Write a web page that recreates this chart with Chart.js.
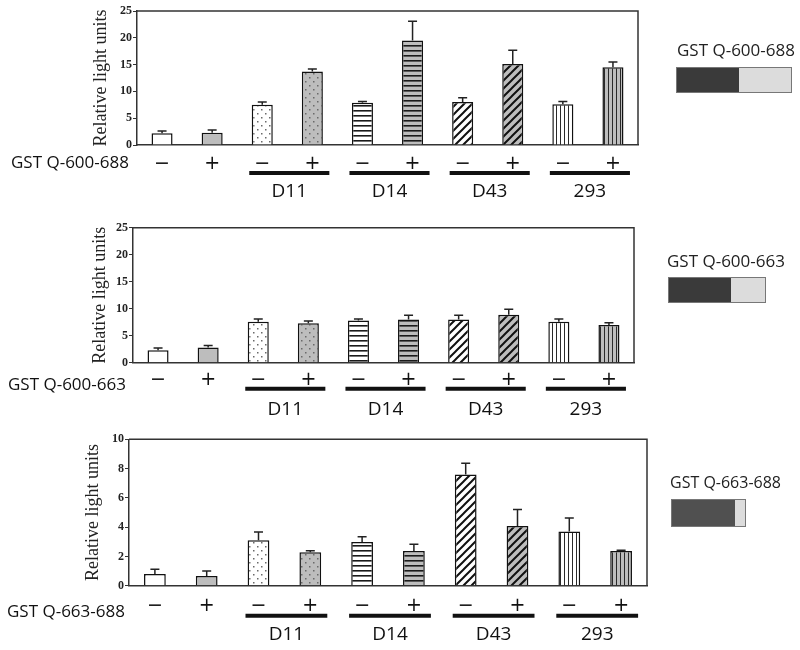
<!DOCTYPE html>
<html>
<head>
<meta charset="utf-8">
<script src="https://cdn.jsdelivr.net/npm/chart.js@4.4.1/dist/chart.umd.min.js"></script>
<style>
  body { margin: 0; background: #fff; }
  #wrap { position: relative; width: 800px; height: 650px; overflow: hidden; }
  canvas { position: absolute; left: 0; }
  .cons { position: absolute; font-family: 'Open Sans', sans-serif; color: #222; white-space: nowrap; }
  .box { position: absolute; border: 1px solid #777; display: flex; box-sizing: border-box; }
  .box div { height: 100%; }
</style>
</head>
<body>
<div id="wrap">
  <canvas id="c1" width="800" height="205" style="top:0px"></canvas>
  <canvas id="c2" width="800" height="215" style="top:215px"></canvas>
  <canvas id="c3" width="800" height="225" style="top:425px"></canvas>

  <div class="cons" style="left:677px;top:38px;font-size:17px">GST Q-600-688</div>
  <div class="box" style="left:676px;top:67px;width:116px;height:26px">
    <div style="width:62px;background:#3a3a3a"></div><div style="flex:1;background:#dcdcdc"></div>
  </div>

  <div class="cons" style="left:667px;top:249px;font-size:17px">GST Q-600-663</div>
  <div class="box" style="left:668px;top:277px;width:98px;height:26px">
    <div style="width:62px;background:#3a3a3a"></div><div style="flex:1;background:#dcdcdc"></div>
  </div>

  <div class="cons" style="left:670px;top:471px;font-size:16px">GST Q-663-688</div>
  <div class="box" style="left:671px;top:499px;width:75px;height:28px">
    <div style="width:63px;background:#505050"></div><div style="flex:1;background:#dcdcdc"></div>
  </div>
</div>

<script>
// x labels (treatment sign) and cell lines
var signs = ['−', '+', '−', '+', '−', '+', '−', '+', '−', '+']
var groupNames = ['D11', 'D14', 'D43', '293']
var groupFirst = [2, 4, 6, 8]

// fill style of each bar
var fillKinds = ['plain', 'plain', 'dots', 'dots', 'hlines', 'hlines', 'diag', 'diag', 'vlines', 'vlines']
var fillShades = ['#ffffff', '#bdbdbd', '#ffffff', '#bdbdbd', '#ffffff', '#bdbdbd', '#ffffff', '#bdbdbd', '#ffffff', '#bdbdbd']

// GST Q-600-688
var p1Means = [2.2, 2.3, 7.5, 13.7, 7.9, 19.5, 8.0, 15.1, 7.6, 14.5]
var p1Errs = [0.4, 0.5, 0.5, 0.5, 0.2, 3.6, 0.8, 2.6, 0.5, 1.0]

// GST Q-600-663
var p2Means = [2.3, 2.8, 7.6, 7.3, 7.8, 8.0, 8.0, 8.9, 7.6, 7.0]
var p2Errs = [0.4, 0.4, 0.5, 0.4, 0.3, 0.8, 0.8, 1.0, 0.5, 0.4]

// GST Q-663-688
var p3Means = [0.8, 0.66, 3.1, 2.28, 2.98, 2.37, 7.6, 4.08, 3.7, 2.37]
var p3Errs = [0.32, 0.34, 0.57, 0.1, 0.37, 0.46, 0.76, 1.12, 0.92, 0.05]

function makePattern(kind, bg) {
  if (kind == 'plain') return bg
  var s = kind == 'dots' ? 8 : kind == 'hlines' ? 5 : kind == 'diag' ? 8 : 4
  var c = document.createElement('canvas')
  c.width = s; c.height = s
  var x = c.getContext('2d')
  x.fillStyle = bg
  x.fillRect(0, 0, s, s)
  if (kind == 'dots') {
    x.fillStyle = '#6a6a6a'
    x.fillRect(1, 1, 1.5, 1.5)
    x.fillRect(5, 5, 1.5, 1.5)
  } else if (kind == 'hlines') {
    x.fillStyle = '#1a1a1a'
    x.fillRect(0, 0, s, 1.6)
  } else if (kind == 'diag') {
    x.strokeStyle = '#111'
    x.lineWidth = 2
    x.beginPath()
    x.moveTo(-1, s + 1); x.lineTo(s + 1, -1)
    x.moveTo(-1, 1); x.lineTo(1, -1)
    x.moveTo(s - 1, s + 1); x.lineTo(s + 1, s - 1)
    x.stroke()
  } else if (kind == 'vlines') {
    x.fillStyle = '#2a2a2a'
    x.fillRect(0, 0, 1, s)
  }
  return x.createPattern(c, 'repeat')
}

var barFills = fillKinds.map(function (k, i) { return makePattern(k, fillShades[i]) })

var errorBars = {
  id: 'errorBars',
  afterDatasetsDraw: function (chart, args, opts) {
    var ctx = chart.ctx
    var y = chart.scales.y
    var means = chart.data.datasets[0].data
    ctx.save()
    ctx.strokeStyle = '#222'
    ctx.lineWidth = 1.5
    chart.getDatasetMeta(0).data.forEach(function (bar, i) {
      var top = y.getPixelForValue(means[i] + opts.errs[i])
      ctx.beginPath()
      ctx.moveTo(bar.x, bar.y)
      ctx.lineTo(bar.x, top)
      ctx.moveTo(bar.x - 4.5, top)
      ctx.lineTo(bar.x + 4.5, top)
      ctx.stroke()
    })
    ctx.restore()
  }
}

// frame, cell line bars under the axis, row label on the left
var decor = {
  id: 'decor',
  afterDraw: function (chart, args, opts) {
    var ctx = chart.ctx
    var a = chart.chartArea
    var xs = chart.scales.x
    ctx.save()
    ctx.strokeStyle = '#333'
    ctx.lineWidth = 1.5
    ctx.beginPath()
    ctx.moveTo(a.left, a.top)
    ctx.lineTo(a.right, a.top)
    ctx.lineTo(a.right, a.bottom)
    ctx.stroke()

    ctx.fillStyle = '#111'
    ctx.strokeStyle = '#111'
    ctx.lineWidth = 4
    ctx.textAlign = 'center'
    ctx.textBaseline = 'middle'
    ctx.font = '19px "Open Sans"'
    groupNames.forEach(function (name, g) {
      var x1 = xs.getPixelForValue(groupFirst[g]) - 13
      var x2 = xs.getPixelForValue(groupFirst[g] + 1) + 17
      ctx.beginPath()
      ctx.moveTo(x1, a.bottom + opts.lineDy)
      ctx.lineTo(x2, a.bottom + opts.lineDy)
      ctx.stroke()
      ctx.fillText(name, (x1 + x2) / 2, a.bottom + opts.nameDy)
    })

    ctx.textAlign = 'left'
    ctx.font = '17px "Open Sans"'
    ctx.fillText(opts.rowLabel, opts.rowX, a.bottom + opts.rowDy)
    ctx.restore()
  }
}

function setPanel(id, means, errs, p) {
  var ctx = document.getElementById(id).getContext('2d')
  var H = ctx.canvas.height
  new Chart(ctx, {
    type: 'bar',
    data: {
      labels: signs,
      datasets: [{
        data: means,
        backgroundColor: barFills,
        borderColor: '#111',
        borderWidth: 1.5,
        barPercentage: 0.42,
        categoryPercentage: 1
      }]
    },
    options: {
      responsive: false,
      animation: false,
      devicePixelRatio: 1,
      layout: {
        padding: { left: p.left, top: p.top, right: 800 - p.right, bottom: 0 }
      },
      plugins: {
        legend: { display: false },
        tooltip: { enabled: false },
        errorBars: { errs: errs },
        decor: p.decor
      },
      scales: {
        x: {
          grid: { display: false },
          border: { color: '#333', width: 1.5 },
          ticks: {
            color: '#111',
            font: { family: 'DejaVu Sans', size: 19 },
            padding: p.tickPad,
            maxRotation: 0,
            autoSkip: false
          },
          afterFit: function (s) { s.height = H - p.bottom }
        },
        y: {
          min: 0,
          max: p.max,
          grid: { drawOnChartArea: false, tickLength: 4, color: '#333' },
          border: { color: '#333', width: 1.5 },
          ticks: {
            stepSize: p.step,
            color: '#222',
            padding: 1,
            font: { family: 'Liberation Serif', size: 12, weight: 'bold' }
          },
          title: {
            display: true,
            text: 'Relative light units',
            color: '#222',
            padding: { top: 2, bottom: 2 },
            font: { family: 'Liberation Serif', size: 18 }
          },
          afterFit: function (s) { s.width = p.axisW }
        }
      }
    },
    plugins: [errorBars, decor]
  })
}

setPanel('c1', p1Means, p1Errs, {
  left: 88, axisW: 49, right: 638, top: 11, bottom: 145, max: 25, step: 5, tickPad: 0,
  decor: { lineDy: 28, nameDy: 47, rowLabel: 'GST Q-600-688', rowX: 11, rowDy: 18 }
})
setPanel('c2', p2Means, p2Errs, {
  left: 87, axisW: 46, right: 634, top: 12.7, bottom: 147.7, max: 25, step: 5, tickPad: -2,
  decor: { lineDy: 26, nameDy: 47, rowLabel: 'GST Q-600-663', rowX: 8, rowDy: 22 }
})
setPanel('c3', p3Means, p3Errs, {
  left: 80, axisW: 49, right: 647, top: 14.3, bottom: 160.7, max: 10, step: 2, tickPad: 1,
  decor: { lineDy: 30, nameDy: 49, rowLabel: 'GST Q-663-688', rowX: 7, rowDy: 26 }
})
</script>
</body>
</html>
